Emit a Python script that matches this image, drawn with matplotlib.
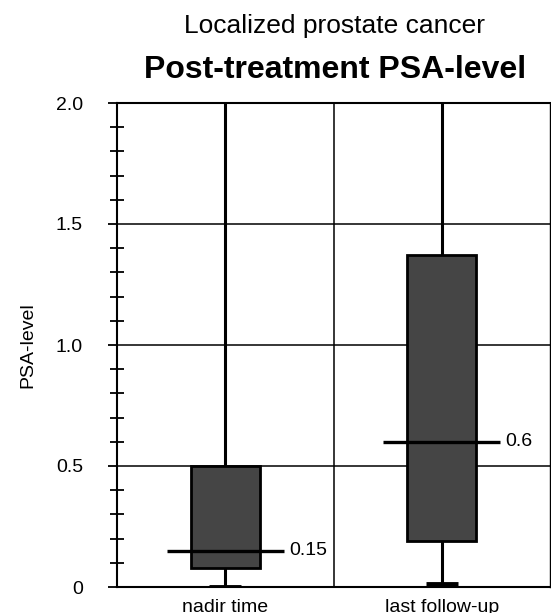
import numpy as np
import matplotlib
matplotlib.use("Agg")
import matplotlib.pyplot as plt
from matplotlib.ticker import MultipleLocator

plt.rcParams['font.family'] = ['Liberation Sans', 'DejaVu Sans']

# ================================
# DATA
# ================================
groups = ["nadir time", "last follow-up"]
q1 = [0.08, 0.19]
q3 = [0.50, 1.37]
medians = [0.15, 0.60]
whisker_lo = [0.0, 0.011]
whisker_hi = [2.0, 2.0]      # clipped at the top of the plot
median_labels = ["0.15", "0.6"]
ytick_vals = [0, 0.5, 1.0, 1.5, 2.0]
ytick_labels = ["0", "0.5", "1.0", "1.5", "2.0"]

W, H = 551, 613
fig = plt.figure(figsize=(W / 100, H / 100), dpi=100)
ax = fig.add_axes([117 / W, (H - 587) / H, (550 - 117) / W, (587 - 103) / H])

x = np.arange(len(groups))
box_w = 0.32
med_w = 0.54
cap_w = 0.15

# grid: horizontal at majors, one vertical between groups
for yv in ytick_vals[1:-1]:
    ax.axhline(yv, color='black', lw=1.1, zorder=1)
ax.axvline(0.5, color='black', lw=1.1, zorder=1)

# whiskers
ax.vlines(x, whisker_lo, whisker_hi, color='black', lw=2.2, zorder=2)
# caps at the bottom
ax.hlines(whisker_lo, x - cap_w / 2, x + cap_w / 2, color='black', lw=3.5, zorder=2)

# boxes
ax.bar(x, np.array(q3) - np.array(q1), bottom=q1, width=box_w,
       color='#454545', edgecolor='black', linewidth=2.0, zorder=3)

# medians, wider than the box, with value labels
ax.hlines(medians, x - med_w / 2, x + med_w / 2, color='black', lw=2.4, zorder=4)
for xi, m, lab in zip(x, medians, median_labels):
    ax.text(xi + med_w / 2 + 0.025, m, lab, ha='left', va='center', fontsize=14, zorder=5)

ax.set_xlim(-0.5, 1.5)
ax.set_ylim(0, 2.0)

ax.set_xticks(x)
ax.set_xticklabels(groups, fontsize=14)
ax.tick_params(axis='x', length=0, pad=9)

ax.set_yticks(ytick_vals)
ax.set_yticklabels(ytick_labels, fontsize=14)
ax.yaxis.set_minor_locator(MultipleLocator(0.1))
ax.tick_params(axis='y', which='major', direction='out', length=6.5, width=1.3, pad=18)
ax.tick_params(axis='y', which='minor', direction='inout', length=10, width=1.3)

for side in ['left', 'top', 'bottom', 'right']:
    ax.spines[side].set_linewidth(1.5)
ax.spines['right'].set_linewidth(1.0)

ax.set_ylabel("PSA-level", fontsize=14, labelpad=14)

fig.text(335 / W, 1 - 33 / H, "Localized prostate cancer", ha='center', va='baseline', fontsize=19)
fig.text(335 / W, 1 - 78 / H, "Post-treatment PSA-level", ha='center', va='baseline',
         fontsize=23, fontweight='bold')

plt.savefig("out.png", dpi=100)
